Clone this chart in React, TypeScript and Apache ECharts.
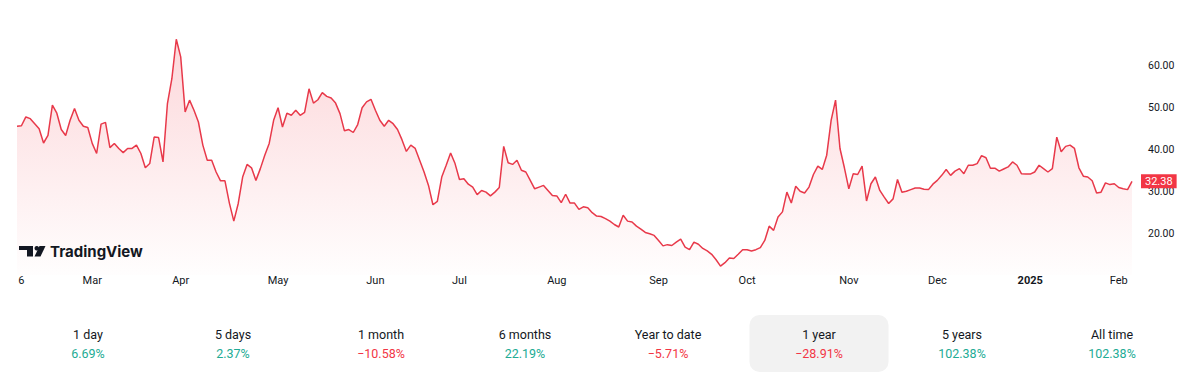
import { useEffect, useRef } from "react";
import * as echarts from "echarts";

// Daily closing prices, Feb 2024 -> Feb 2025 (trading days)
const values: number[] = [
  45.5, 45.6, 47.7, 47.3, 46.1, 44.9, 41.5, 43.3, 50.5, 48.6,
  44.7, 43.3, 46.9, 49.7, 46.9, 45.5, 45.2, 41.4, 39.0, 46.0,
  46.4, 40.4, 41.4, 40.2, 39.2, 40.2, 40.2, 41.0, 39.0, 35.6,
  36.6, 42.9, 42.8, 37.0, 50.9, 56.8, 66.2, 62.0, 48.9, 51.7,
  49.3, 46.5, 41.0, 37.4, 37.4, 34.6, 32.5, 32.5, 27.2, 22.9,
  27.1, 33.4, 36.4, 35.6, 32.6, 35.4, 38.6, 41.4, 46.9, 49.9,
  45.3, 48.6, 48.1, 49.3, 48.1, 48.8,
  54.4, 51.0, 51.8, 53.5, 52.6, 52.2, 51.0, 48.5, 44.4, 44.7,
  44.0, 45.9, 49.9, 51.3, 51.9, 49.3, 46.9, 45.5, 46.9, 46.1,
  44.7, 42.3, 39.5, 41.0, 40.2, 37.4, 34.6, 31.4, 26.8, 27.6,
  33.4, 36.2, 39.1, 36.6, 32.8, 33.0, 31.7, 31.0, 29.2, 30.2,
  29.8, 28.9, 29.8, 30.9, 40.7, 36.8, 36.4, 37.4, 35.0, 34.6,
  32.6, 30.6, 31.0, 31.4, 30.2, 29.0, 28.9, 27.3, 29.3, 27.2,
  27.2, 25.7, 26.3, 26.1, 24.9, 24.1, 24.0,
  23.5, 22.9, 22.1, 21.5, 24.3, 22.9, 22.7, 21.7, 21.0, 20.2,
  19.9, 19.5, 18.3, 17.0, 17.3, 17.1, 17.9, 18.6, 16.7, 16.1,
  17.9, 17.4, 16.4, 15.8, 15.0, 13.7, 12.2, 13.0, 14.1, 14.0,
  15.0, 16.1, 16.1, 15.8, 16.1, 16.6, 18.3, 21.7, 20.7, 23.9,
  25.1, 29.8, 27.2, 31.2, 30.0, 29.6, 31.0, 34.0, 36.0, 35.2,
  38.6, 46.9, 51.7, 40.2, 35.6, 30.6, 34.2, 34.0, 36.0, 27.7,
  31.8, 33.4, 30.2,
  28.6, 27.1, 28.2, 32.8, 29.8, 30.0, 30.4, 30.8, 30.8, 30.5,
  30.4, 31.7, 32.6, 33.8, 35.2, 33.8, 34.8, 35.4, 34.2, 36.2,
  36.2, 36.6, 38.5, 38.0, 35.5, 35.5, 34.8, 35.3, 35.8, 37.0,
  36.2, 34.2, 34.1, 34.1, 34.6, 36.2, 35.4, 34.6, 35.4, 42.9,
  39.4, 40.7, 41.0, 40.2, 35.6, 33.6, 33.4, 32.5, 29.6, 29.8,
  32.0, 31.6, 31.8, 30.9, 30.6, 30.4, 32.38,
];

const categories: string[] = values.map((_, i) => String(i));

// x-axis tick labels and the category index they sit on
const tickIndices: number[] = [1, 17, 37, 59, 81, 100, 122, 145, 165, 188, 208, 229, 249];
const tickLabels: string[] = ["6", "Mar", "Apr", "May", "Jun", "Jul", "Aug", "Sep", "Oct", "Nov", "Dec", "2025", "Feb"];
const boldTickLabels: string[] = ["2025"];

const yTicks: number[] = [20, 30, 40, 50, 60];

const periodLabels: string[] = ["1 day", "5 days", "1 month", "6 months", "Year to date", "1 year", "5 years", "All time"];
const periodChanges: number[] = [6.69, 2.37, -10.58, 22.19, -5.71, -28.91, 102.38, 102.38];
const selectedPeriod = 5;

// layout (pixels)
const statCenters = [88, 233, 381, 525, 668, 819, 962, 1112];

const RED = "#f23645";
const LINE_RED = "#e8394a";
const GREEN = "#22ab94";
const INK = "#131722";

function fmtChange(v: number): string {
  const s = Math.abs(v).toFixed(2) + "%";
  return v < 0 ? "\u2212" + s : s;
}

export default function App() {
  const ref = useRef<HTMLDivElement>(null);

  useEffect(() => {
    if (!ref.current) return;
    const chart = echarts.init(ref.current, undefined, { renderer: "svg" });
    const lastValue = values[values.length - 1];

    const statGraphics: any[] = [];
    const sel = statCenters[selectedPeriod];
    statGraphics.push({
      type: "rect",
      shape: { x: sel - 69.5, y: 315, width: 139, height: 57, r: 10 },
      style: { fill: "#f2f2f2" },
      z: 0,
    });
    periodLabels.forEach((lab, i) => {
      statGraphics.push({
        type: "text",
        x: statCenters[i],
        y: 334,
        z: 1,
        style: {
          text: lab,
          fill: INK,
          font: "12.5px Roboto",
          align: "center",
          verticalAlign: "middle",
          textAlign: "center",
          textVerticalAlign: "middle",
        },
      });
      const v = periodChanges[i];
      statGraphics.push({
        type: "text",
        x: statCenters[i],
        y: 353,
        z: 1,
        style: {
          text: fmtChange(v),
          fill: v < 0 ? RED : GREEN,
          font: "12.5px Roboto",
          align: "center",
          verticalAlign: "middle",
          textAlign: "center",
          textVerticalAlign: "middle",
        },
      });
    });

    const logo: any[] = [
      {
        type: "polygon",
        shape: { points: [[19, 246], [33, 246], [33, 256.5], [27, 256.5], [27, 250], [19, 250]] },
        style: { fill: INK },
        z: 10,
      },
      { type: "circle", shape: { cx: 36.8, cy: 248.2, r: 2.3 }, style: { fill: INK }, z: 10 },
      {
        type: "polygon",
        shape: { points: [[34.5, 256.5], [39.5, 246], [45.5, 246], [40.5, 256.5]] },
        style: { fill: INK },
        z: 10,
      },
      {
        type: "text",
        x: 50,
        y: 251.5,
        z: 10,
        style: {
          text: "TradingView",
          fill: INK,
          font: "700 15px Inter",
          align: "left",
          verticalAlign: "middle",
          textAlign: "left",
          textVerticalAlign: "middle",
        },
      },
    ];

    chart.setOption({
      animation: false,
      grid: { left: 17, right: 68, top: 23.3, bottom: 111.7 },
      xAxis: {
        type: "category",
        data: categories,
        boundaryGap: false,
        axisLine: { show: false },
        axisTick: { show: false },
        splitLine: { show: false },
        axisLabel: {
          margin: 0,
          color: INK,
          fontSize: 11,
          fontFamily: "Roboto",
          showMinLabel: true,
          showMaxLabel: true,
          interval: (idx: number) => tickIndices.includes(idx),
          formatter: (val: string) => {
            const k = tickIndices.indexOf(Number(val));
            if (k < 0) return "";
            const t = tickLabels[k];
            return boldTickLabels.includes(t) ? "{b|" + t + "}" : t;
          },
          rich: { b: { fontWeight: "bold", fontSize: 11, fontFamily: "Roboto", color: INK } },
        },
      },
      yAxis: {
        type: "value",
        position: "right",
        min: 10,
        max: 70,
        interval: 10,
        axisLine: { show: false },
        axisTick: { show: false },
        splitLine: { show: false },
        axisLabel: {
          margin: 16,
          color: INK,
          fontSize: 10.5,
          fontFamily: "Roboto",
          formatter: (v: number) => (yTicks.includes(v) ? v.toFixed(2) : ""),
        },
      },
      series: [
        {
          type: "line",
          data: values,
          showSymbol: false,
          symbol: "none",
          silent: true,
          lineStyle: { color: LINE_RED, width: 1.5 },
          areaStyle: {
            color: new echarts.graphic.LinearGradient(0, 0, 0, 1, [
              { offset: 0, color: "rgba(242,54,69,0.28)" },
              { offset: 1, color: "rgba(242,54,69,0.01)" },
            ]),
          },
          markLine: {
            silent: true,
            symbol: ["none", "none"],
            lineStyle: { color: "transparent", width: 0 },
            label: {
              position: "end",
              distance: 9,
              formatter: () => lastValue.toFixed(2),
              color: "#ffffff",
              backgroundColor: RED,
              padding: [2, 4, 1, 4],
              fontSize: 11,
              fontFamily: "Roboto",
            },
            data: [{ yAxis: lastValue }],
          },
        },
      ],
      graphic: [...logo, ...statGraphics],
    });

    return () => chart.dispose();
  }, []);

  return (
    <div
      ref={ref}
      style={{ position: "absolute", left: 0, top: 0, width: 1200, height: 387, background: "#ffffff" }}
    />
  );
}
